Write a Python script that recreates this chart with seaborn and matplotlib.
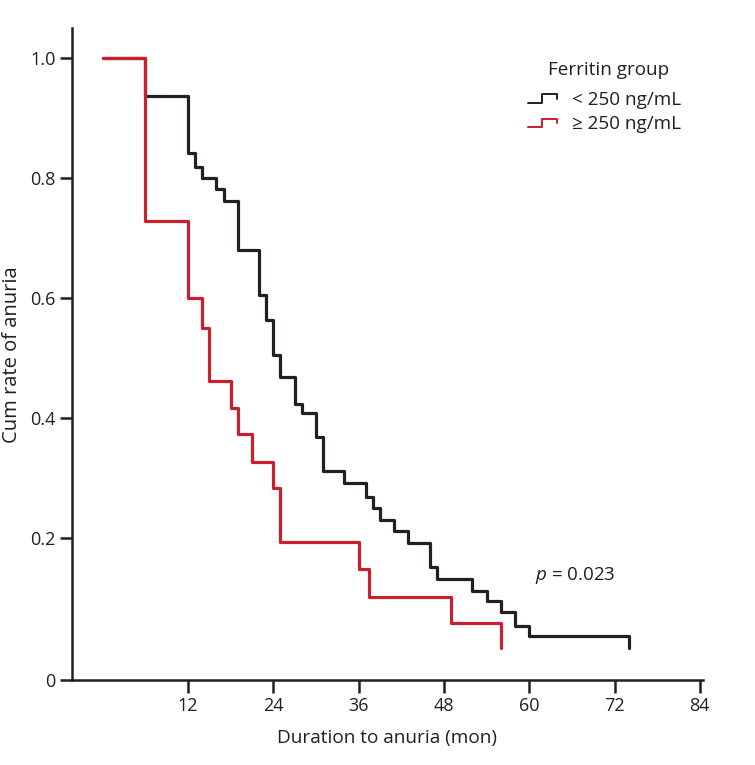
import pandas as pd
import seaborn as sns
import matplotlib
matplotlib.use('Agg')
import matplotlib.pyplot as plt
from matplotlib.lines import Line2D
from matplotlib.legend_handler import HandlerBase

# Kaplan-Meier style step data
low_months = [0, 6, 12, 13, 14, 16, 17, 19, 22, 23, 24, 25, 27, 28, 30, 31,
              34, 37, 38, 39, 41, 43, 46, 47, 52, 54, 56, 58, 60, 74]
low_rate = [1.0, 0.937, 0.842, 0.819, 0.801, 0.782, 0.762, 0.681, 0.605, 0.563,
            0.505, 0.469, 0.424, 0.409, 0.368, 0.312, 0.291, 0.269, 0.250, 0.230,
            0.211, 0.191, 0.152, 0.132, 0.112, 0.095, 0.076, 0.054, 0.036, 0.016]

high_months = [0, 6, 12, 14, 15, 18, 19, 21, 24, 25, 36, 37.4, 49, 56]
high_rate = [1.0, 0.728, 0.600, 0.550, 0.461, 0.416, 0.373, 0.327, 0.284, 0.193,
             0.148, 0.101, 0.058, 0.016]

groups = ['< 250 ng/mL', '\u2265 250 ng/mL']
colors = ['#231f20', '#c8202f']

x_ticks = [12, 24, 36, 48, 60, 72, 84]
y_ticks = [0.2, 0.4, 0.6, 0.8, 1.0]
y_tick_labels = ['0.2', '0.4', '0.6', '0.8', '1.0']

df = pd.concat([
    pd.DataFrame({'Months': low_months, 'Rate': low_rate, 'Group': groups[0]}),
    pd.DataFrame({'Months': high_months, 'Rate': high_rate, 'Group': groups[1]}),
], ignore_index=True)

sns.set_style('white')
plt.rcParams['font.family'] = ['Open Sans', 'DejaVu Sans']
plt.rcParams['mathtext.fontset'] = 'custom'
plt.rcParams['mathtext.it'] = 'Open Sans:italic'
plt.rcParams['mathtext.rm'] = 'Open Sans'

fig = plt.figure(figsize=(7.55, 7.65), dpi=100)
ax = fig.add_axes([0.0954, 0.111, 0.8355, 0.852])

sns.lineplot(data=df, x='Months', y='Rate', hue='Group', hue_order=groups,
             palette=colors, drawstyle='steps-post', estimator=None, sort=False,
             linewidth=2.3, legend=False, ax=ax)

ax.set_xlim(-4.31, 84.42)
y_bottom = -0.037
ax.set_ylim(y_bottom, 1.05)

# the original places the "0" label at the bottom of the axis
ax.set_xticks(x_ticks)
ax.set_xticklabels([str(t) for t in x_ticks])
ax.set_yticks([y_bottom] + y_ticks)
ax.set_yticklabels(['0'] + y_tick_labels)

for side in ['top', 'right']:
    ax.spines[side].set_visible(False)
for side in ['left', 'bottom']:
    ax.spines[side].set_color('#231f20')
    ax.spines[side].set_linewidth(1.8)

ax.tick_params(axis='both', which='major', direction='out', length=9, width=1.8,
               color='#231f20', labelsize=13, labelcolor='#231f20', pad=3,
               left=True, bottom=True)

ax.set_xlabel('Duration to anuria (mon)', fontsize=13.7, color='#231f20', labelpad=10)
ax.set_ylabel('Cum rate of anuria', fontsize=14.5, color='#231f20', labelpad=6)

ax.text(60.8, 0.138, r'$p$ = 0.023', fontsize=13.5, color='#231f20',
        ha='left', va='center')


class StepHandler(HandlerBase):
    def create_artists(self, legend, orig_handle, xdescent, ydescent,
                       width, height, fontsize, trans):
        w, h = width, height
        xs = [0, 0.45 * w, 0.45 * w, 0.95 * w, 0.95 * w]
        ys = [0.15 * h, 0.15 * h, 0.8 * h, 0.8 * h, 0.45 * h]
        line = Line2D([x - xdescent for x in xs], [y - ydescent for y in ys],
                      color=orig_handle.get_color(), linewidth=1.4)
        line.set_transform(trans)
        return [line]


# legend title drawn separately to get the wider gap of the original
fig.text(0.8066, 0.9085, 'Ferritin group', fontsize=13.6, color='#231f20',
         ha='center', va='center')

handles = [Line2D([], [], color=c) for c in colors]
leg = fig.legend(handles, groups,
                 handler_map={Line2D: StepHandler()},
                 loc='upper left', bbox_to_anchor=(0.699, 0.881),
                 frameon=False, fontsize=13.6,
                 borderpad=0, borderaxespad=0,
                 handlelength=1.65, handletextpad=0.7, labelspacing=0.33)
for t in leg.get_texts():
    t.set_color('#231f20')

fig.savefig('out.png', dpi=100)
